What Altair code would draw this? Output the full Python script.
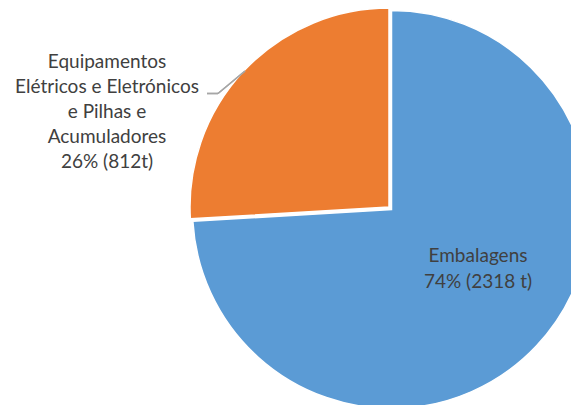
import altair as alt
import pandas as pd

categories = ["Embalagens", "Equipamentos Elétricos e Eletrónicos e Pilhas e Acumuladores"]
values = [2318, 812]
colors = ["#5B9BD5", "#ED7D31"]
label_lines_left = ["Equipamentos", "Elétricos e Eletrónicos", "e Pilhas e", "Acumuladores", "26% (812t)"]
label_lines_right = ["Embalagens", "74% (2318 t)"]

df = pd.DataFrame({"cat": categories, "val": values, "order": [0, 1]})

W, H = 563, 397
CX, CY, R = 383.5, 201.5, 199
FONT = "Lato"
FS = 19
TXT = "#404040"

base = alt.Chart(df).encode(
    theta=alt.Theta("val:Q", stack=True),
    order=alt.Order("order:Q"),
    color=alt.Color("cat:N", scale=alt.Scale(domain=categories, range=colors), legend=None),
)

blue = base.mark_arc(radius=R, stroke="white", strokeWidth=1.5).encode(
    x=alt.value(CX), y=alt.value(CY),
    opacity=alt.condition(alt.datum.order == 0, alt.value(1), alt.value(0)),
)
orange = base.mark_arc(radius=R, stroke="white", strokeWidth=1.5).encode(
    x=alt.value(CX - 2.5), y=alt.value(CY - 2.5),
    opacity=alt.condition(alt.datum.order == 1, alt.value(1), alt.value(0)),
)

left_df = pd.DataFrame({"t": label_lines_left, "i": list(range(len(label_lines_left)))})
left_text = alt.Chart(left_df).mark_text(
    font=FONT, fontSize=FS, color=TXT, align="center", baseline="alphabetic"
).encode(
    x=alt.value(99),
    y=alt.Y("i:Q", scale=alt.Scale(domain=[0, 4], range=[60, 160]), axis=None),
    text="t:N",
)

right_df = pd.DataFrame({"t": label_lines_right, "i": list(range(len(label_lines_right)))})
right_text = alt.Chart(right_df).mark_text(
    font=FONT, fontSize=FS, color=TXT, align="center", baseline="alphabetic"
).encode(
    x=alt.value(470),
    y=alt.Y("i:Q", scale=alt.Scale(domain=[0, 1], range=[254, 280]), axis=None),
    text="t:N",
)

leader_h = alt.Chart(df).mark_rule(color="#A6A6A6", strokeWidth=1.5).encode(
    x=alt.value(199), x2=alt.value(210), y=alt.value(85.5), y2=alt.value(85.5)
)
leader_d = alt.Chart(df).mark_rule(color="#A6A6A6", strokeWidth=1.5).encode(
    x=alt.value(210), x2=alt.value(237), y=alt.value(85.5), y2=alt.value(63)
)

chart = alt.layer(blue, orange, leader_h, leader_d, left_text, right_text).resolve_scale(
    y="independent"
).properties(
    width=W, height=H, padding=0, autosize=alt.AutoSizeParams(type="none")
).configure_view(stroke=None)

chart.save("out.html", embed_options={"renderer": "svg", "actions": False})
